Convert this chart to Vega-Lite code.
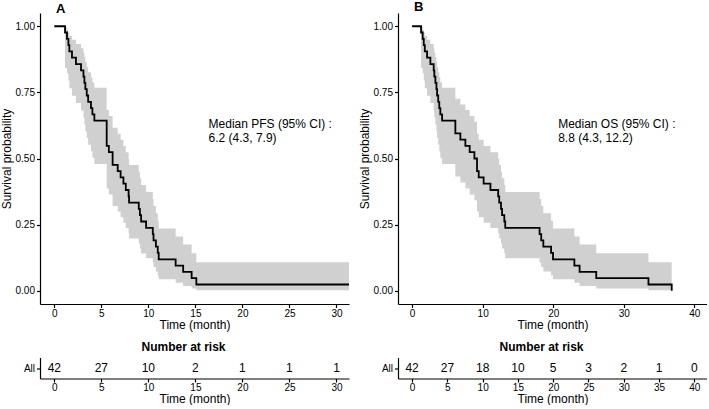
{
  "$schema": "https://vega.github.io/schema/vega-lite/v6.json",
  "autosize": {"type": "pad"},
  "padding": {"left": 0, "top": 1, "right": 0, "bottom": 0},
  "background": "white",
  "datasets": {
    "kmA": [
      {"t": 0, "s": 1, "lo": 1, "hi": 1},
      {"t": 1.14, "s": 0.9762, "lo": 0.8421, "hi": 0.9967},
      {"t": 1.35, "s": 0.9524, "lo": 0.8227, "hi": 0.9879},
      {"t": 1.5, "s": 0.9286, "lo": 0.7947, "hi": 0.9764},
      {"t": 1.6, "s": 0.9048, "lo": 0.7659, "hi": 0.9632},
      {"t": 1.88, "s": 0.881, "lo": 0.7374, "hi": 0.9486},
      {"t": 2.3, "s": 0.8571, "lo": 0.7094, "hi": 0.9331},
      {"t": 2.84, "s": 0.8333, "lo": 0.6819, "hi": 0.9168},
      {"t": 3.1, "s": 0.8095, "lo": 0.655, "hi": 0.8998},
      {"t": 3.2, "s": 0.7857, "lo": 0.6286, "hi": 0.8823},
      {"t": 3.3, "s": 0.7619, "lo": 0.6027, "hi": 0.8641},
      {"t": 3.45, "s": 0.7381, "lo": 0.5772, "hi": 0.8455},
      {"t": 3.6, "s": 0.7143, "lo": 0.552, "hi": 0.8265},
      {"t": 3.9, "s": 0.6905, "lo": 0.5273, "hi": 0.807},
      {"t": 4.05, "s": 0.6667, "lo": 0.503, "hi": 0.7872},
      {"t": 4.26, "s": 0.6429, "lo": 0.4791, "hi": 0.767},
      {"t": 5.57, "s": 0.5476, "lo": 0.3865, "hi": 0.6829},
      {"t": 5.8, "s": 0.5238, "lo": 0.3642, "hi": 0.661},
      {"t": 6.2, "s": 0.4762, "lo": 0.3205, "hi": 0.6164},
      {"t": 6.74, "s": 0.4524, "lo": 0.2992, "hi": 0.5936},
      {"t": 7.05, "s": 0.4286, "lo": 0.2782, "hi": 0.5706},
      {"t": 7.35, "s": 0.4048, "lo": 0.2575, "hi": 0.5472},
      {"t": 7.6, "s": 0.381, "lo": 0.2372, "hi": 0.5235},
      {"t": 7.9, "s": 0.3571, "lo": 0.2172, "hi": 0.4994},
      {"t": 7.95, "s": 0.3333, "lo": 0.1976, "hi": 0.4751},
      {"t": 8.98, "s": 0.3095, "lo": 0.1784, "hi": 0.4503},
      {"t": 9.1, "s": 0.2857, "lo": 0.1596, "hi": 0.4252},
      {"t": 9.23, "s": 0.2619, "lo": 0.1413, "hi": 0.3996},
      {"t": 9.76, "s": 0.2381, "lo": 0.1234, "hi": 0.3737},
      {"t": 10.47, "s": 0.2143, "lo": 0.1061, "hi": 0.3472},
      {"t": 10.55, "s": 0.1905, "lo": 0.0894, "hi": 0.3203},
      {"t": 10.8, "s": 0.1667, "lo": 0.0733, "hi": 0.2927},
      {"t": 11.0, "s": 0.1429, "lo": 0.058, "hi": 0.2645},
      {"t": 11.1, "s": 0.119, "lo": 0.0436, "hi": 0.2355},
      {"t": 12.9, "s": 0.0952, "lo": 0.0303, "hi": 0.2056},
      {"t": 13.7, "s": 0.0714, "lo": 0.0185, "hi": 0.1745},
      {"t": 14.6, "s": 0.0476, "lo": 0.0087, "hi": 0.1419},
      {"t": 15.1, "s": 0.0238, "lo": 0.0019, "hi": 0.1079},
      {"t": 31.33, "s": 0.0238, "lo": 0.0019, "hi": 0.1079}
    ],
    "kmB": [
      {"t": 0, "s": 1, "lo": 1, "hi": 1},
      {"t": 1.27, "s": 0.9762, "lo": 0.8421, "hi": 0.9967},
      {"t": 1.5, "s": 0.9524, "lo": 0.8227, "hi": 0.9879},
      {"t": 1.65, "s": 0.9286, "lo": 0.7947, "hi": 0.9764},
      {"t": 1.8, "s": 0.9048, "lo": 0.7659, "hi": 0.9632},
      {"t": 2.12, "s": 0.881, "lo": 0.7374, "hi": 0.9486},
      {"t": 2.59, "s": 0.8571, "lo": 0.7094, "hi": 0.9331},
      {"t": 3.06, "s": 0.8333, "lo": 0.6819, "hi": 0.9168},
      {"t": 3.15, "s": 0.8095, "lo": 0.655, "hi": 0.8998},
      {"t": 3.3, "s": 0.7857, "lo": 0.6286, "hi": 0.8823},
      {"t": 3.45, "s": 0.7619, "lo": 0.6027, "hi": 0.8641},
      {"t": 3.54, "s": 0.7381, "lo": 0.5772, "hi": 0.8455},
      {"t": 3.7, "s": 0.7143, "lo": 0.552, "hi": 0.8265},
      {"t": 3.85, "s": 0.6905, "lo": 0.5273, "hi": 0.807},
      {"t": 4.0, "s": 0.6667, "lo": 0.503, "hi": 0.7872},
      {"t": 4.25, "s": 0.6429, "lo": 0.4791, "hi": 0.767},
      {"t": 6.13, "s": 0.5952, "lo": 0.4321, "hi": 0.7256},
      {"t": 6.84, "s": 0.5714, "lo": 0.4092, "hi": 0.7044},
      {"t": 7.55, "s": 0.5476, "lo": 0.3865, "hi": 0.6829},
      {"t": 8.16, "s": 0.5238, "lo": 0.3642, "hi": 0.661},
      {"t": 8.83, "s": 0.5, "lo": 0.3422, "hi": 0.6389},
      {"t": 9.2, "s": 0.4524, "lo": 0.2992, "hi": 0.5936},
      {"t": 9.44, "s": 0.4286, "lo": 0.2782, "hi": 0.5706},
      {"t": 10.14, "s": 0.4048, "lo": 0.2575, "hi": 0.5472},
      {"t": 11.1, "s": 0.381, "lo": 0.2372, "hi": 0.5235},
      {"t": 12.2, "s": 0.3571, "lo": 0.2172, "hi": 0.4994},
      {"t": 12.35, "s": 0.3333, "lo": 0.1976, "hi": 0.4751},
      {"t": 12.6, "s": 0.3095, "lo": 0.1784, "hi": 0.4503},
      {"t": 12.75, "s": 0.2857, "lo": 0.1596, "hi": 0.4252},
      {"t": 13.07, "s": 0.2619, "lo": 0.1413, "hi": 0.3996},
      {"t": 13.2, "s": 0.2381, "lo": 0.1234, "hi": 0.3737},
      {"t": 18.07, "s": 0.2143, "lo": 0.1061, "hi": 0.3472},
      {"t": 18.3, "s": 0.1905, "lo": 0.0894, "hi": 0.3203},
      {"t": 18.6, "s": 0.1667, "lo": 0.0733, "hi": 0.2927},
      {"t": 19.7, "s": 0.1429, "lo": 0.058, "hi": 0.2645},
      {"t": 19.97, "s": 0.119, "lo": 0.0436, "hi": 0.2355},
      {"t": 23.0, "s": 0.0952, "lo": 0.0303, "hi": 0.2056},
      {"t": 23.74, "s": 0.0714, "lo": 0.0185, "hi": 0.1745},
      {"t": 26.1, "s": 0.0476, "lo": 0.0087, "hi": 0.1419},
      {"t": 33.5, "s": 0.0238, "lo": 0.0019, "hi": 0.1079},
      {"t": 36.8, "s": 0, "lo": 0.0019, "hi": 0.1079}
    ],
    "noteA": [
      {"t": 16.4, "s": 0.631, "label": "Median PFS (95% CI) :"},
      {"t": 16.4, "s": 0.578, "label": "6.2 (4.3, 7.9)"}
    ],
    "noteB": [
      {"t": 20.7, "s": 0.631, "label": "Median OS (95% CI) :"},
      {"t": 20.7, "s": 0.578, "label": "8.8 (4.3, 12.2)"}
    ],
    "riskA": [
      {"group": "All", "t": 0, "n": 42},
      {"group": "All", "t": 5, "n": 27},
      {"group": "All", "t": 10, "n": 10},
      {"group": "All", "t": 15, "n": 2},
      {"group": "All", "t": 20, "n": 1},
      {"group": "All", "t": 25, "n": 1},
      {"group": "All", "t": 30, "n": 1}
    ],
    "riskB": [
      {"group": "All", "t": 0, "n": 42},
      {"group": "All", "t": 5, "n": 27},
      {"group": "All", "t": 10, "n": 18},
      {"group": "All", "t": 15, "n": 10},
      {"group": "All", "t": 20, "n": 5},
      {"group": "All", "t": 25, "n": 3},
      {"group": "All", "t": 30, "n": 2},
      {"group": "All", "t": 35, "n": 1},
      {"group": "All", "t": 40, "n": 0}
    ]
  },
  "columns": 2,
  "spacing": {"row": 10.5, "column": 5},
  "concat": [
    {
      "width": 309,
      "height": 291,
      "title": {"text": "A", "anchor": "start", "frame": "group", "dx": 16, "offset": -3, "fontSize": 13, "fontWeight": "bold"},
      "layer": [
        {
          "data": {"name": "kmA"},
          "mark": {"type": "area", "interpolate": "step-after", "color": "#d0d0d0", "opacity": 1},
          "encoding": {
            "x": {"field": "t", "type": "quantitative", "scale": {"domain": [-1.52, 31.33], "nice": false, "zero": false}, "axis": {"values": [0, 5, 10, 15, 20, 25, 30], "title": "Time (month)", "labelPadding": 0.5, "titlePadding": 1}},
            "y": {"field": "lo", "type": "quantitative", "scale": {"domain": [-0.05, 1.05], "nice": false, "zero": false}, "axis": {"values": [0, 0.25, 0.5, 0.75, 1], "format": ".2f", "title": "Survival probability"}},
            "y2": {"field": "hi"}
          }
        },
        {
          "data": {"name": "kmA"},
          "mark": {"type": "line", "interpolate": "step-after", "color": "black", "strokeWidth": 1.8},
          "encoding": {
            "x": {"field": "t", "type": "quantitative", "axis": {"title": "Time (month)"}},
            "y": {"field": "s", "type": "quantitative", "axis": {"title": "Survival probability"}}
          }
        },
        {
          "data": {"name": "noteA"},
          "mark": {"type": "text", "align": "left", "baseline": "middle", "fontSize": 12, "color": "black"},
          "encoding": {
            "x": {"field": "t", "type": "quantitative", "axis": {"title": "Time (month)"}},
            "y": {"field": "s", "type": "quantitative", "axis": {"title": "Survival probability"}},
            "text": {"field": "label"}
          }
        }
      ]
    },
    {
      "width": 309,
      "height": 291,
      "title": {"text": "B", "anchor": "start", "frame": "group", "dx": 16, "offset": -1, "fontSize": 13, "fontWeight": "bold"},
      "layer": [
        {
          "data": {"name": "kmB"},
          "mark": {"type": "area", "interpolate": "step-after", "color": "#d0d0d0", "opacity": 1},
          "encoding": {
            "x": {"field": "t", "type": "quantitative", "scale": {"domain": [-2, 41.8], "nice": false, "zero": false}, "axis": {"values": [0, 5, 10, 15, 20, 25, 30, 35, 40], "title": "Time (month)", "labelPadding": 0.5, "titlePadding": 1}},
            "y": {"field": "lo", "type": "quantitative", "scale": {"domain": [-0.05, 1.05], "nice": false, "zero": false}, "axis": {"values": [0, 0.25, 0.5, 0.75, 1], "format": ".2f", "title": "Survival probability"}},
            "y2": {"field": "hi"}
          }
        },
        {
          "data": {"name": "kmB"},
          "mark": {"type": "line", "interpolate": "step-after", "color": "black", "strokeWidth": 1.8},
          "encoding": {
            "x": {"field": "t", "type": "quantitative", "axis": {"title": "Time (month)"}},
            "y": {"field": "s", "type": "quantitative", "axis": {"title": "Survival probability"}}
          }
        },
        {
          "data": {"name": "noteB"},
          "mark": {"type": "text", "align": "left", "baseline": "middle", "fontSize": 12, "color": "black"},
          "encoding": {
            "x": {"field": "t", "type": "quantitative", "axis": {"title": "Time (month)"}},
            "y": {"field": "s", "type": "quantitative", "axis": {"title": "Survival probability"}},
            "text": {"field": "label"}
          }
        }
      ]
    },
    {
      "width": 309,
      "height": 21,
      "title": {"text": "Number at risk", "anchor": "middle", "frame": "group", "dx": -11, "offset": 4, "fontSize": 12, "fontWeight": "bold"},
      "data": {"name": "riskA"},
      "mark": {"type": "text", "fontSize": 12, "color": "black"},
      "encoding": {
        "x": {"field": "t", "type": "quantitative", "scale": {"domain": [-1.52, 31.33], "nice": false, "zero": false}, "axis": {"values": [0, 5, 10, 15, 20, 25, 30], "title": "Time (month)", "labelPadding": 0.5, "titlePadding": 1}},
        "y": {"field": "group", "type": "nominal", "scale": {"domain": ["All"]}, "axis": {"title": null}},
        "text": {"field": "n"}
      }
    },
    {
      "width": 309,
      "height": 21,
      "title": {"text": "Number at risk", "anchor": "middle", "frame": "group", "dx": -11, "offset": 4, "fontSize": 12, "fontWeight": "bold"},
      "data": {"name": "riskB"},
      "mark": {"type": "text", "fontSize": 12, "color": "black"},
      "encoding": {
        "x": {"field": "t", "type": "quantitative", "scale": {"domain": [-2, 41.8], "nice": false, "zero": false}, "axis": {"values": [0, 5, 10, 15, 20, 25, 30, 35, 40], "title": "Time (month)", "labelPadding": 0.5, "titlePadding": 1}},
        "y": {"field": "group", "type": "nominal", "scale": {"domain": ["All"]}, "axis": {"title": null}},
        "text": {"field": "n"}
      }
    }
  ],
  "config": {
    "font": "Liberation Sans",
    "view": {"stroke": null},
    "title": {"font": "Liberation Sans", "color": "black"},
    "text": {"font": "Liberation Sans"},
    "axis": {
      "grid": false,
      "domainColor": "black",
      "domainWidth": 1.2,
      "tickColor": "black",
      "tickWidth": 1.2,
      "tickSize": 3.5,
      "labelColor": "black",
      "labelFont": "Liberation Sans",
      "labelFontSize": 10,
      "labelPadding": 2,
      "titleColor": "black",
      "titleFont": "Liberation Sans",
      "titleFontSize": 12,
      "titleFontWeight": "normal",
      "titlePadding": 2,
      "labelFlush": false,
      "labelOverlap": false
    }
  }
}
